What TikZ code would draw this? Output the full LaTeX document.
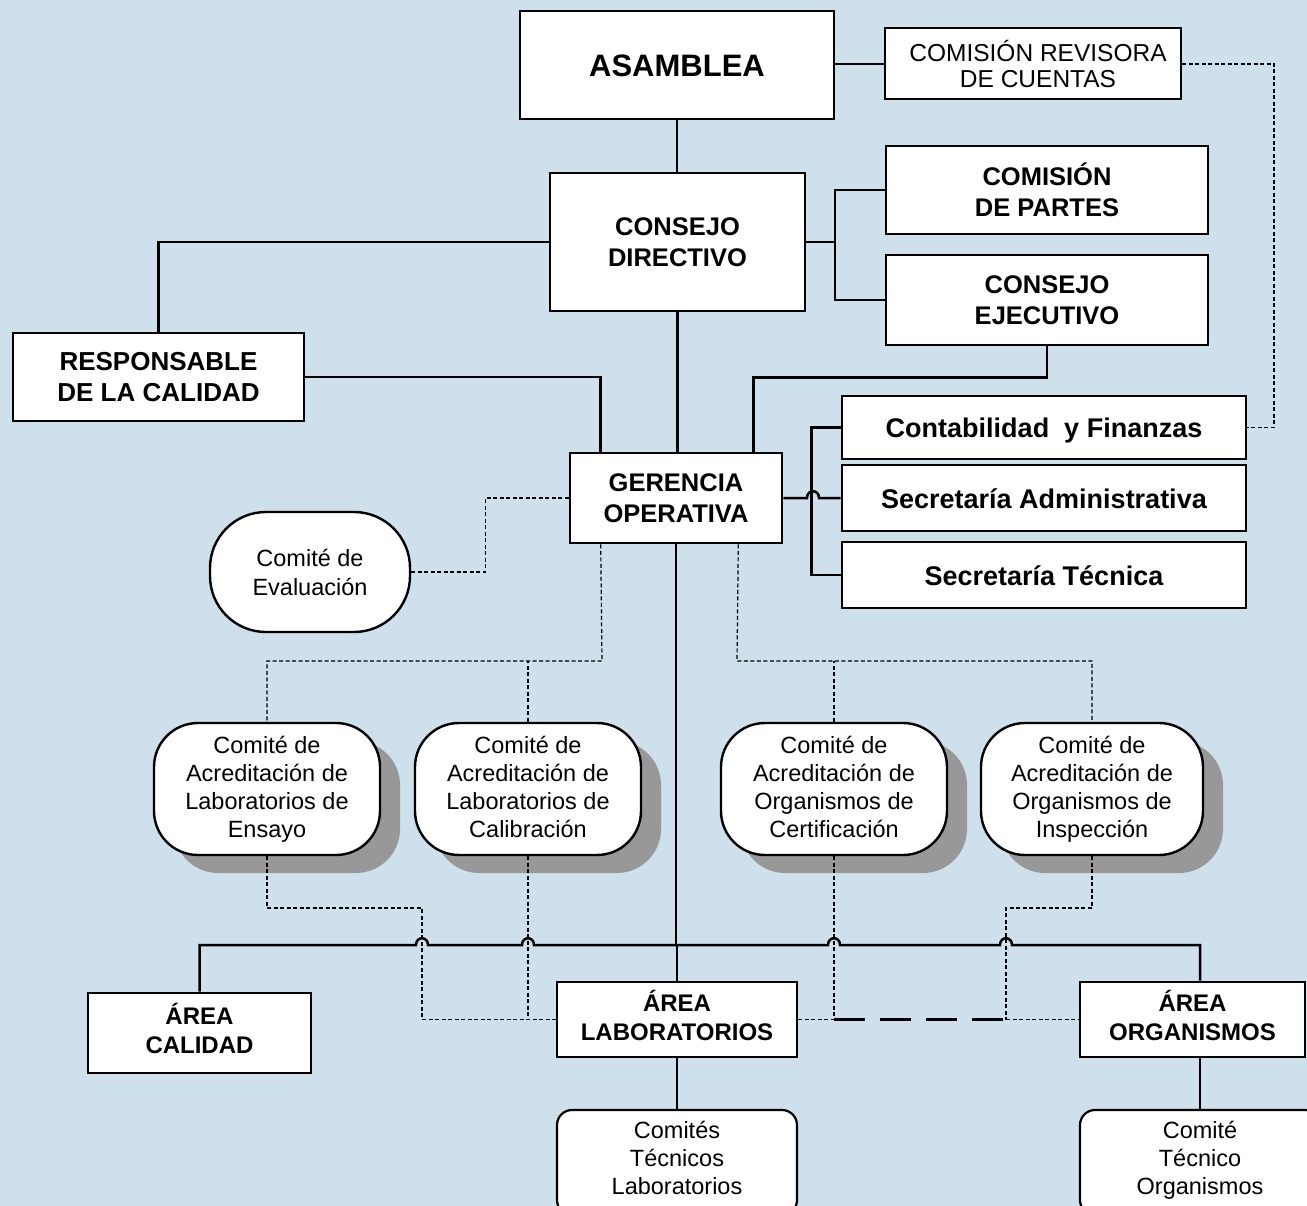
\documentclass[tikz,border=0pt]{standalone}
\usepackage{fontspec}
\setmainfont{Liberation Sans}
\usetikzlibrary{shadows}
\definecolor{bgblue}{RGB}{205,224,236}
\definecolor{shadowgray}{RGB}{152,152,152}
\newcommand\mytopstrut{\rule{0pt}{\dimexpr.7\baselineskip+8pt\relax}}
\tikzset{
  oneline/.style={execute at begin node=\mytopstrut, execute at end node=\strut},
  box/.style={draw=black, fill=white, line width=2.6pt, align=center, inner sep=0pt},
  bigbold/.style={box, font=\fontsize{25.5}{31.5}\selectfont\bfseries},
  admbold/.style={box, oneline, font=\fontsize{27}{31.5}\selectfont\bfseries},
  areabox/.style={box, execute at end node=\strut, font=\fontsize{24}{29}\selectfont\bfseries},
  comite/.style={draw=black, fill=white, line width=2.4pt, align=center, inner sep=0pt,
     execute at end node=\rule[-5pt]{0pt}{5pt},
     rounded corners=44pt, font=\fontsize{23.5}{28}\selectfont,
     general shadow={shadow xshift=20pt, shadow yshift=-18pt, fill=shadowgray}},
  evbox/.style={draw=black, fill=white, line width=2.4pt, align=center, inner sep=0pt,
     rounded corners=56pt, font=\fontsize{23.5}{29}\selectfont},
  tecbox/.style={draw=black, fill=white, line width=2.2pt, align=center, inner sep=0pt,
     execute at end node=\strut, rounded corners=15pt, font=\fontsize{23.5}{28}\selectfont},
  conn/.style={line width=2.5pt},
  thinconn/.style={line width=1.4pt},
  dsh/.style={line width=1.2pt, dash pattern=on 4pt off 2.5pt},
  longdsh/.style={line width=2.6pt, dash pattern=on 31pt off 15pt},
}
\begin{document}
\begin{tikzpicture}[x=1pt,y=-1pt]
\useasboundingbox (0,0) rectangle (1307,1206);
\clip (0,0) rectangle (1307,1206);
\fill[bgblue] (0,0) rectangle (1307,1206);

% nodes
\node[box, oneline, minimum width=314, minimum height=108, font=\fontsize{31}{36}\selectfont\bfseries] (asam) at (677,65) {ASAMBLEA};
\node[box, line width=2pt, minimum width=296, minimum height=71, font=\fontsize{24.5}{26}\selectfont] (crc) at (1033,64) {\hspace*{10pt}COMISIÓN REVISORA\\\hspace*{10pt}DE CUENTAS};
\node[bigbold, minimum width=255, minimum height=138] (cd) at (677.5,242) {CONSEJO\\DIRECTIVO};
\node[bigbold, minimum width=322, minimum height=88] (cp) at (1047,190) {COMISIÓN\\DE PARTES};
\node[bigbold, minimum width=322, minimum height=90] (ce) at (1047,300) {CONSEJO\\EJECUTIVO};
\node[bigbold, minimum width=291, minimum height=88, font=\fontsize{26}{31.5}\selectfont\bfseries] (rc) at (158.5,377) {RESPONSABLE\\DE LA CALIDAD};
\node[bigbold, minimum width=212, minimum height=90] (go) at (676,498) {GERENCIA\\OPERATIVA};
\node[admbold, minimum width=404, minimum height=63] (cf) at (1044,427.5) {Contabilidad\ \ y Finanzas};
\node[admbold, minimum width=404, minimum height=66] (sa) at (1044,498) {Secretaría Administrativa};
\node[admbold, minimum width=404, minimum height=66] (st) at (1044,575) {Secretaría Técnica};

\node[evbox, minimum width=200, minimum height=120] (ev) at (310,572) {Comité de\\Evaluación};

\node[comite, minimum width=226, minimum height=132] (c1) at (267,789) {Comité de\\Acreditación de\\Laboratorios de\\Ensayo};
\node[comite, minimum width=226, minimum height=132] (c2) at (528,789) {Comité de\\Acreditación de\\Laboratorios de\\Calibración};
\node[comite, minimum width=226, minimum height=132] (c3) at (834,789) {Comité de\\Acreditación de\\Organismos de\\Certificación};
\node[comite, minimum width=222, minimum height=132] (c4) at (1092,789) {Comité de\\Acreditación de\\Organismos de\\Inspección};

\node[areabox, minimum width=223, minimum height=80] (ac) at (199.5,1033) {ÁREA\\CALIDAD};
\node[areabox, minimum width=240, minimum height=75] (al) at (677,1019.5) {ÁREA\\LABORATORIOS};
\node[areabox, minimum width=225, minimum height=75] (ao) at (1192.5,1019.5) {ÁREA\\ORGANISMOS};

\node[tecbox, minimum width=240, minimum height=105] (tl) at (677,1162.5) {Comités\\Técnicos\\Laboratorios};
\node[tecbox, minimum width=240, minimum height=105] (to) at (1200,1162.5) {Comité\\Técnico\\Organismos};

% top connectors
\draw[conn] (asam.south) -- (asam.south |- cd.north);
\draw[line width=1.8pt] (asam.east |- crc.west) -- (crc.west);
\draw[dsh] (crc.east) -- ++(92,0) |- (cf.east);

\coordinate (j1) at (835,242);
\draw[conn] (cd.east) -- (j1);
\draw[conn] (cp.west) -| (j1) |- (ce.west);
\draw[conn] (cd.west) -| (rc.north);
\draw[conn] (rc.east) -| ([xshift=32pt]go.north west);
\draw[conn] (cd.south) -- (cd.south |- go.north);
\draw[conn] (ce.south) -- ++(0,31) -| ([xshift=-30pt]go.north east);

% gerencia to admin boxes
\draw[conn] (go.east) -- (807,498) .. controls (807,489) and (819,489) .. (819,498) -- (sa.west);
\draw[conn] (cf.west) -- ++(-29,0) |- (st.west);

% comite de evaluacion
\draw[dsh] (ev.east) -- ++(74,0) |- (go.west);

% dashed from gerencia to comites
\coordinate (dl) at (602,661);
\coordinate (dr) at (737,661);
\draw[dsh] ([xshift=32pt]go.south west) -- (dl) -| (c1.north);
\draw[dsh] (c2.north) -- (c2.north |- dl);
\draw[dsh] ([xshift=-45pt]go.south east) -- (dr) -| (c4.north);
\draw[dsh] (c3.north) -- (c3.north |- dr);

% dashed from comites to areas
\coordinate (m1) at (422,908);
\coordinate (m4) at (1006,908);
\coordinate (e4) at (1006,1019.5);
\draw[dsh] (c1.south) |- (m1) |- (al.west);
\draw[dsh] (c2.south) -- (c2.south |- al.west);
\draw[dsh] (c3.south) -- (c3.south |- al.west);
\draw[dsh] (al.east) -- (c3.south |- al.east);
\draw[longdsh] (c3.south |- al.east) -- (e4);
\draw[dsh] (e4) -- (ao.west);
\draw[dsh] (c4.south) |- (m4) -- (e4);

% main bus
\coordinate (bus) at (677,945);
\draw[conn] (go.south) -- (go.south |- bus);
\draw[conn] (bus) -- (al.north);
\draw[conn] (ac.north) -- (ac.north |- bus)
  -- (416,945) .. controls (416,936) and (428,936) .. (428,945)
  -- (522,945) .. controls (522,936) and (534,936) .. (534,945)
  -- (828,945) .. controls (828,936) and (840,936) .. (840,945)
  -- (1000,945) .. controls (1000,936) and (1012,936) .. (1012,945)
  -- (1200,945) -- ([xshift=7.5pt]ao.north);

% areas to technical committees
\draw[thinconn] (al.south) -- (tl.north);
\draw[thinconn] ([xshift=7.5pt]ao.south) -- (to.north);
\end{tikzpicture}
\end{document}
